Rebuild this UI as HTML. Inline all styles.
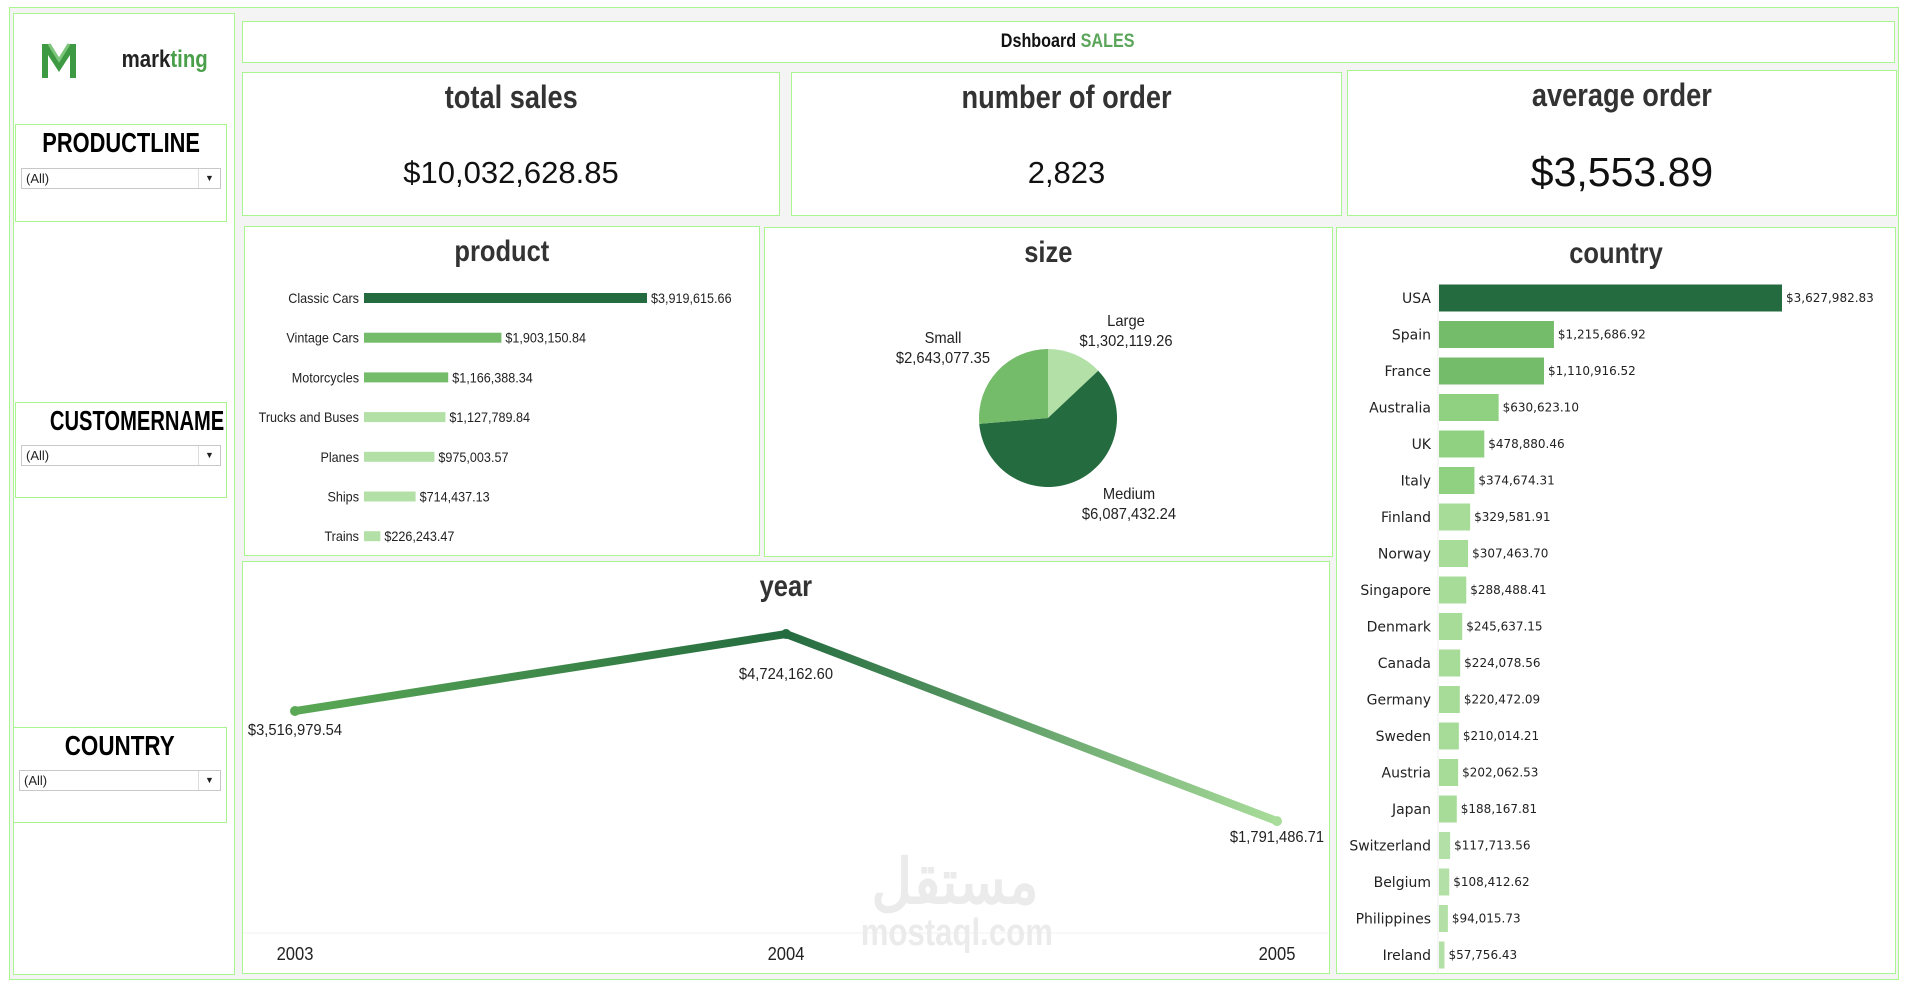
<!DOCTYPE html>
<html><head><meta charset="utf-8">
<style>
*{box-sizing:border-box;margin:0;padding:0}
body{width:1905px;height:984px;background:#fff;position:relative;overflow:hidden;font-family:"Liberation Sans",sans-serif;color:#222}
.p{position:absolute;border:1.5px solid #a9f58f;background:#fff}
.t{position:absolute;left:0;right:0;text-align:center;font-family:"Liberation Sans",sans-serif;font-weight:bold;color:#333;white-space:nowrap}
.t>i{display:inline-block;font-style:normal;transform:scaleX(0.85)}
.kv{position:absolute;left:0;right:0;text-align:center;color:#111}
.dd{position:absolute;left:5px;right:5px;height:21px;border:1px solid #c8c8c8;background:#fff;font-size:13px;line-height:19px;padding-left:4px}
.dd span{position:absolute;right:0;top:0;width:22px;height:19px;border-left:1px solid #ddd;text-align:center;font-size:9px}
</style></head><body>
<div style="position:absolute;left:9px;top:7px;width:1890px;height:973px;background:#f4f4f4;border:1.5px solid #a9f58f"></div>

<div class="p" style="left:13px;top:13px;width:222px;height:962px">
  <svg style="position:absolute;left:26px;top:28px" width="38" height="38" viewBox="0 0 38 38">
    <path d="M2 36V2h7l10 16L29 2h7v34h-6V13l-11 17L8 13v23z" fill="#3e9a42"/>
    <path d="M9 2l10 16 10-16" fill="none" stroke="#7cc57a" stroke-width="3"/>
  </svg>
  <div class="t" style="left:100px;right:auto;top:32px;font-size:24px;color:#222"><i>mark<span style="color:#4a9f4a">ting</span></i></div>
  <div class="p" style="left:1px;top:110px;width:212px;height:98px">
    <div class="t" style="top:2px;font-size:28px;color:#000"><i style="transform:scaleX(0.78)">PRODUCTLINE</i></div>
    <div class="dd" style="top:43px">(All)<span>▼</span></div>
  </div>
  <div class="p" style="left:1px;top:388px;width:212px;height:96px">
    <div class="t" style="top:2px;font-size:28px;color:#000"><i style="transform:scaleX(0.72)">CUSTOMERNAME</i></div>
    <div class="dd" style="top:42px">(All)<span>▼</span></div>
  </div>
  <div class="p" style="left:-1px;top:713px;width:214px;height:96px">
    <div class="t" style="top:2px;font-size:28px;color:#000"><i style="transform:scaleX(0.8)">COUNTRY</i></div>
    <div class="dd" style="top:42px">(All)<span>▼</span></div>
  </div>
</div>

<div class="p" style="left:242px;top:21px;width:1653px;height:42px">
  <div class="t" style="top:9px;left:0;width:1650px;font-size:19px;color:#111"><i>Dshboard <span style="color:#5aa55a">SALES</span></i></div>
</div>

<div class="p" style="left:242px;top:72px;width:538px;height:144px">
  <div class="t" style="top:6px;font-size:32px"><i>total sales</i></div>
  <div class="kv" style="top:82px;font-size:31px">$10,032,628.85</div>
</div>
<div class="p" style="left:791px;top:72px;width:551px;height:144px">
  <div class="t" style="top:6px;font-size:32px"><i>number of order</i></div>
  <div class="kv" style="top:82px;font-size:31px">2,823</div>
</div>
<div class="p" style="left:1347px;top:70px;width:550px;height:146px">
  <div class="t" style="top:6px;font-size:32px"><i>average order</i></div>
  <div class="kv" style="top:78px;font-size:41px">$3,553.89</div>
</div>

<div class="p" style="left:244px;top:226px;width:516px;height:330px">
  <div class="t" style="top:8px;font-size:30px"><i>product</i></div>
</div>
<div class="p" style="left:764px;top:227px;width:569px;height:330px">
  <div class="t" style="top:8px;font-size:30px"><i>size</i></div>
</div>
<div class="p" style="left:1336px;top:227px;width:560px;height:747px">
  <div class="t" style="top:9px;font-size:30px"><i>country</i></div>
</div>
<div class="p" style="left:242px;top:561px;width:1088px;height:413px">
  <div class="t" style="top:8px;font-size:30px"><i>year</i></div>
</div>

<svg id="charts" style="position:absolute;left:0;top:0" width="1905" height="984"></svg>

<div style="position:absolute;left:840px;top:852px;width:230px;text-align:center;color:#ebebeb;font-family:'Liberation Sans','Noto Sans CJK SC',sans-serif;font-weight:bold;line-height:1">
  <div style="font-size:62px;transform:scaleX(0.9)">مستقل</div><div style="font-size:38px;transform:scaleX(0.82)">mostaql.com</div>
</div>

<script>
const productCats=["Classic Cars","Vintage Cars","Motorcycles","Trucks and Buses","Planes","Ships","Trains"];
const productVals=[3919615.66,1903150.84,1166388.34,1127789.84,975003.57,714437.13,226243.47];
const sizeCats=["Large","Medium","Small"];
const sizeVals=[1302119.26,6087432.24,2643077.35];
const countryCats=["USA","Spain","France","Australia","UK","Italy","Finland","Norway","Singapore","Denmark","Canada","Germany","Sweden","Austria","Japan","Switzerland","Belgium","Philippines","Ireland"];
const countryVals=[3627982.83,1215686.92,1110916.52,630623.10,478880.46,374674.31,329581.91,307463.70,288488.41,245637.15,224078.56,220472.09,210014.21,202062.53,188167.81,117713.56,108412.62,94015.73,57756.43];
const years=["2003","2004","2005"];
const yearVals=[3516979.54,4724162.60,1791486.71];

const NS="http://www.w3.org/2000/svg";
const svg=document.getElementById('charts');
function mk(tag,attrs,parent){const e=document.createElementNS(NS,tag);for(const k in attrs)e.setAttribute(k,attrs[k]);(parent||svg).appendChild(e);return e;}
function fmt(v){return "$"+v.toLocaleString("en-US",{minimumFractionDigits:2,maximumFractionDigits:2});}
function narrow(t,f){const w=t.getComputedTextLength();if(w>0){t.setAttribute('textLength',w*f);t.setAttribute('lengthAdjust','spacingAndGlyphs');}}
function shade(v,max){const r=v/max;if(r>0.8)return"#246b3f";if(r>0.25)return"#74bb6a";if(r>0.1)return"#8fd180";if(r>0.04)return"#a6dc98";return"#b3e0a6";}
const FONT="'Liberation Sans',sans-serif";

// product bars
const pMax=Math.max(...productVals);
const px=v=>364+v/pMax*283;
const py=i=>298+i*39.7;
productCats.forEach((c,i)=>{
  const r=productVals[i]/pMax;
  const col=r>0.8?"#246b3f":(r>0.29?"#74bb6a":"#b3e0a6");
  const b=mk('rect',{x:364,y:py(i)-5,width:px(productVals[i])-364,height:10,fill:col});
  
  
  const l=mk('text',{x:359,y:py(i)+5,'text-anchor':'end','font-size':14,'font-family':FONT,fill:'#222'});l.textContent=c;
  
  
  narrow(l,0.9);
  const v=mk('text',{x:px(productVals[i])+4,y:py(i)+5,'font-size':14,'font-family':FONT,fill:'#222'});v.textContent=fmt(productVals[i]);
  
  
  narrow(v,0.9);
});

// pie
const cx=1048,cy=418,R=69;
const tot=sizeVals.reduce((a,b)=>a+b,0);
const sizeCols=["#b3e0a6","#246b3f","#74bb6a"];
let a0=0;
const pos=a=>[cx+R*Math.sin(a),cy-R*Math.cos(a)];
sizeCats.forEach((c,i)=>{
  const a1=a0+sizeVals[i]/tot*Math.PI*2;
  const [x0,y0]=pos(a0),[x1,y1]=pos(a1);
  const s=mk('path',{d:`M${cx},${cy}L${x0},${y0}A${R},${R} 0 ${a1-a0>Math.PI?1:0} 1 ${x1},${y1}Z`,fill:sizeCols[i]});
  
  
  a0=a1;
});
const sizeLab=[[1126,321],[1129,494],[943,338]];
sizeCats.forEach((c,i)=>{
  const t=mk('text',{x:sizeLab[i][0],y:sizeLab[i][1]+5,'text-anchor':'middle','font-size':16,'font-family':FONT,fill:'#222'});t.textContent=c;
  
  
  narrow(t,0.92);
  const v=mk('text',{x:sizeLab[i][0],y:sizeLab[i][1]+25,'text-anchor':'middle','font-size':16,'font-family':FONT,fill:'#222'});v.textContent=fmt(sizeVals[i]);
  
  
  narrow(v,0.92);
});

// country bars
const cMax=Math.max(...countryVals);
const cxs=v=>1439+v/cMax*343;
const cys=i=>298+i*36.5;
mk('line',{x1:1438,y1:285,x2:1438,y2:972,stroke:'#eee'});
countryCats.forEach((c,i)=>{
  const b=mk('rect',{x:1439,y:cys(i)-13.5,width:cxs(countryVals[i])-1439,height:27,fill:shade(countryVals[i],cMax)});
  
  
  const l=mk('text',{x:1431,y:cys(i)+5,'text-anchor':'end','font-size':14,'font-family':"'DejaVu Sans',sans-serif",fill:'#222'});l.textContent=c;
  
  
  const v=mk('text',{x:cxs(countryVals[i])+4,y:cys(i)+4,'font-size':12,'font-family':"'DejaVu Sans',sans-serif",fill:'#222'});v.textContent=fmt(countryVals[i]);
  
  
});

// year line
const yx=i=>295+i*491;
const yy=v=>935.4-v/1e6*63.8;
const defs=mk('defs',{});
const g=mk('linearGradient',{id:'lg',gradientUnits:'userSpaceOnUse',x1:yx(0),y1:0,x2:yx(2),y2:0},defs);
mk('stop',{offset:'0','stop-color':'#5aa855'},g);
mk('stop',{offset:'0.5','stop-color':'#246b3f'},g);
mk('stop',{offset:'1','stop-color':'#a8dc9a'},g);
mk('line',{x1:243,y1:933,x2:1328,y2:933,stroke:'#f0f0f0'});
const pts=yearVals.map((v,i)=>yx(i)+','+yy(v)).join(' ');
const ln=mk('polyline',{points:pts,fill:'none',stroke:'url(#lg)','stroke-width':8,'stroke-linejoin':'miter'});


const ptCols=["#5aa855","#246b3f","#a8dc9a"];
const labOff=[24,45,21];
years.forEach((y,i)=>{
  const c=mk('circle',{cx:yx(i),cy:yy(yearVals[i]),r:5,fill:ptCols[i]});
  
  
  const t=mk('text',{x:yx(i),y:yy(yearVals[i])+labOff[i],'text-anchor':'middle','font-size':16,'font-family':FONT,fill:'#222'});t.textContent=fmt(yearVals[i]);
  
  
  narrow(t,0.92);
  const xl=mk('text',{x:yx(i),y:960,'text-anchor':'middle','font-size':18,'font-family':FONT,fill:'#222'});xl.textContent=y;
  
  
  narrow(xl,0.92);
});
</script>
</body></html>
